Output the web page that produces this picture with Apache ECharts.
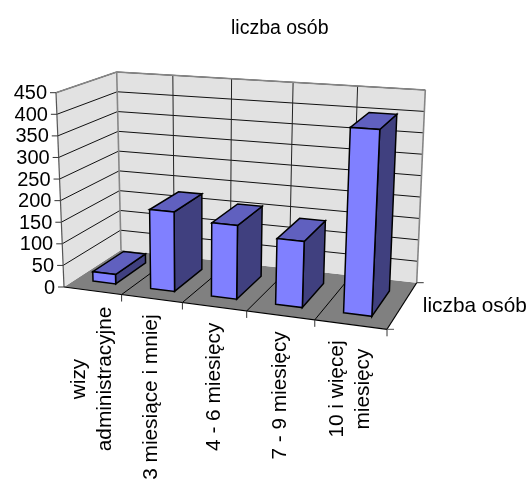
<!DOCTYPE html>
<html><head><meta charset="utf-8">
<style>html,body{margin:0;padding:0;background:#fff;overflow:hidden}#c{width:531px;height:481px}</style>
<script src="https://cdn.jsdelivr.net/npm/echarts@6/dist/echarts.min.js"></script>
</head><body><div id="c"></div>
<script>
// ---- data ----
const categories = ['wizy\nadministracyjne', '3 miesiące i mniej', '4 - 6 miesięcy', '7 - 9 miesięcy', '10 i więcej\nmiesięcy'];
const values = [22, 182, 166, 146, 405];
const yTicks = [0, 50, 100, 150, 200, 250, 300, 350, 400, 450];
const seriesName = 'liczba osób';
const yMax = 450;

// ---- 3D frame layout (pixel corners of the plot box: front-left, front-right, back-right, back-left) ----
const W = 531, H = 481;
const floorQuad = [[64, 287], [387, 329.3], [416.7, 282.7], [121, 250]];
const topQuad = [[56, 92.7], [397, 116], [425.3, 90], [116.7, 72]];
const barU = [0.3, 0.7], barD = [0.2, 0.75];
const FONT = '"Liberation Sans", Arial, sans-serif', FS = 20, FSC = 20.8, FSD = 20.8;
const cFront = '#8080ff', cSide = '#40407f', cTop = '#6060bf', cWall = '#e2e2e2', cFloor = '#808080', cEdge = '#868686';

function homography(q) {
  const [[x0,y0],[x1,y1],[x2,y2],[x3,y3]] = q;
  const dx1=x1-x2, dx2=x3-x2, sx=x0-x1+x2-x3, dy1=y1-y2, dy2=y3-y2, sy=y0-y1+y2-y3;
  const den=dx1*dy2-dx2*dy1, g=(sx*dy2-dx2*sy)/den, h=(dx1*sy-sx*dy1)/den;
  const a=x1-x0+g*x1, b=x3-x0+h*x3, d=y1-y0+g*y1, e=y3-y0+h*y3;
  return (u,v)=>{const w=g*u+h*v+1; return [(a*u+b*v+x0)/w,(d*u+e*v+y0)/w];};
}
const hFloor = homography(floorQuad), hTop = homography(topQuad);
const n = categories.length;

// project: category index + offset inside band, value, depth -> screen, going through the cartesian scales
function projector(api) {
  const band = api.size([1, 0])[0];
  return (i, off, v, d) => {
    const p = api.coord([i, v]);
    const u = (p[0] + (off - 0.5) * band) / W;
    const t = 1 - p[1] / H;
    const a = hFloor(u, d), b = hTop(u, d);
    return [a[0] + (b[0]-a[0])*t, a[1] + (b[1]-a[1])*t];
  };
}
const poly = (pts, fill, stroke, lw) => ({type:'polygon', silent:true, shape:{points:pts}, style:{fill, stroke:stroke||null, lineWidth:lw||0}});
const line = (a, b, stroke, lw) => ({type:'line', silent:true, shape:{x1:a[0],y1:a[1],x2:b[0],y2:b[1]}, style:{stroke, lineWidth:lw||1}});

const mc = document.createElement('canvas').getContext('2d');
mc.font = FSC + 'px ' + FONT;

function renderFrame(params, api) {
  const P = projector(api), ch = [];
  const L = n - 1;
  // walls & floor
  ch.push(poly([P(0,0,0,0),P(L,1,0,0),P(L,1,0,1),P(0,0,0,1)], cFloor));
  ch.push(poly([P(0,0,0,0),P(0,0,0,1),P(0,0,yMax,1),P(0,0,yMax,0)], cWall));
  ch.push(poly([P(0,0,0,1),P(L,1,0,1),P(L,1,yMax,1),P(0,0,yMax,1)], cWall));
  // grid
  yTicks.forEach((t, k) => {
    if (k === 0) return;
    ch.push(line(P(0,0,t,0),P(0,0,t,1),'#111',1));
    ch.push(line(P(0,0,t,1),P(L,1,t,1),'#111',1));
  });
  for (let i = 1; i < n; i++) {
    ch.push(line(P(i,0,0,1),P(i,0,yMax,1),'#222',1));
    ch.push(line(P(i,0,0,0),P(i,0,0,1),'#000',1));
  }
  // wall borders
  ch.push(line(P(0,0,0,1),P(0,0,yMax,1),cEdge,1.6));
  ch.push(line(P(0,0,yMax,0),P(0,0,yMax,1),cEdge,1.6));
  ch.push(line(P(0,0,yMax,1),P(L,1,yMax,1),cEdge,1.6));
  ch.push(line(P(L,1,yMax,1),P(L,1,0,1),cEdge,1.6));
  // axes
  ch.push(line(P(0,0,0,0),P(0,0,yMax,0),'#555',1.2));
  ch.push(line(P(0,0,0,0),P(L,1,0,0),'#000',1.2));
  ch.push(line(P(L,1,0,0),P(L,1,0,1),'#000',1.2));
  // y ticks & labels
  yTicks.forEach(t => {
    const a = P(0,0,t,0);
    ch.push(line([a[0]-6,a[1]],a,'#333',1));
    ch.push({type:'text',silent:true,style:{x:a[0]-9,y:a[1]+1,text:String(t),textAlign:'right',textVerticalAlign:'middle',font:FS+'px '+FONT,fill:'#000'}});
  });
  // category ticks
  for (let i = 0; i <= n; i++) {
    const a = i < n ? P(i,0,0,0) : P(L,1,0,0);
    if (i > 0) ch.push(line(a,[a[0],a[1]+7],'#333',1));
  }
  // depth ticks
  const fr = P(L,1,0,0), br = P(L,1,0,1);
  ch.push(line(fr,[fr[0]+7,fr[1]],'#555',1));
  ch.push(line(br,[br[0]+7,br[1]],'#333',1));
  // category labels (rotated, block top aligned under the tick)
  categories.forEach((c, i) => {
    const a = P(i,0.5,0,0), lines = c.split('\n');
    const maxW = Math.max(...lines.map(s => mc.measureText(s).width));
    const lh = 26;
    lines.forEach((s, k) => {
      const x = a[0] + (k - (lines.length-1)/2) * lh, y = a[1] + 16 + maxW/2;
      ch.push({type:'text',silent:true,x,y,rotation:Math.PI/2,style:{x:0,y:0,text:s,textAlign:'center',textVerticalAlign:'middle',font:FSC+'px '+FONT,fill:'#000'}});
    });
  });
  // depth label
  const m = [(fr[0]+br[0])/2,(fr[1]+br[1])/2];
  ch.push({type:'text',silent:true,style:{x:m[0]+21,y:m[1],text:seriesName,textAlign:'left',textVerticalAlign:'middle',font:FSD+'px '+FONT,fill:'#000'}});
  return {type:'group',children:ch};
}

function renderBar(params, api) {
  const P = projector(api), i = api.value(0), v = api.value(1);
  const [u0,u1] = barU, [d0,d1] = barD;
  const s='#000', lw=1.5;
  return {type:'group',children:[
    poly([P(i,u1,0,d0),P(i,u1,0,d1),P(i,u1,v,d1),P(i,u1,v,d0)],cSide,s,lw),
    poly([P(i,u0,v,d0),P(i,u1,v,d0),P(i,u1,v,d1),P(i,u0,v,d1)],cTop,s,lw),
    poly([P(i,u0,0,d0),P(i,u1,0,d0),P(i,u1,v,d0),P(i,u0,v,d0)],cFront,s,lw)
  ]};
}

const chart = echarts.init(document.getElementById('c'), null, {renderer:'canvas', width:W, height:H});
chart.setOption({
  animation:false,
  backgroundColor:'#fff',
  title:{text:seriesName,left:226,top:14,textStyle:{fontFamily:FONT,fontSize:19.5,fontWeight:'normal',color:'#000'}},
  grid:{left:0,right:0,top:0,bottom:0},
  xAxis:{type:'category',data:categories,show:false},
  yAxis:{type:'value',min:0,max:yMax,interval:50,show:false},
  tooltip:{show:false},
  series:[
    {type:'custom',name:'frame',clip:false,silent:true,renderItem:renderFrame,data:[[0,0]],encode:{x:0,y:1},z:1},
    {type:'custom',name:seriesName,clip:false,silent:true,renderItem:renderBar,data:values.map((v,i)=>[i,v]),encode:{x:0,y:1},z:2}
  ]
});
</script></body></html>
